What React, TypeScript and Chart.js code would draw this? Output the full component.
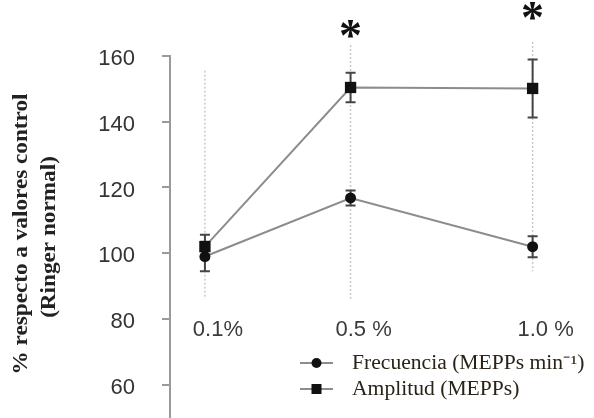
import React, { useEffect, useRef } from 'react';
import { Chart, registerables } from 'chart.js';

Chart.register(...registerables);

const concentrations = [0.1, 0.5, 1.0];
const concentrationLabels = ['0.1%', '0.5 %', '1.0 %'];
const frecuencia = [99.0, 116.8, 102.0];
const frecuenciaErr = [4.5, 2.3, 3.2];
const amplitud = [102.0, 150.4, 150.1];
const amplitudErr = [3.6, 4.5, 8.8];
const rangeTop = [155.5, 163.3, 164.2];
const rangeBottom = [86.1, 86.1, 94.5];
const significance = ['', '*', '*'];
const significanceY = [0, 166.3, 171.7];
const yTicks = [60, 80, 100, 120, 140, 160];
const seriesNames = ['Frecuencia (MEPPs min⁻¹)', 'Amplitud (MEPPs)'];
const yTitle = ['% respecto a valores control', '(Ringer normal)'];

const LINE = '#8c8c8c';
const MARK = '#111111';

const overlay = {
  id: 'overlay',
  beforeDatasetsDraw(chart: any) {
    const { ctx, scales } = chart;
    const x = scales.x;
    const y = scales.y;
    ctx.save();
    ctx.strokeStyle = '#c8c8c8';
    ctx.lineWidth = 1.5;
    ctx.setLineDash([2, 2]);
    concentrations.forEach((c, i) => {
      const px = x.getPixelForValue(c);
      ctx.beginPath();
      ctx.moveTo(px, y.getPixelForValue(rangeTop[i]));
      ctx.lineTo(px, y.getPixelForValue(rangeBottom[i]));
      ctx.stroke();
    });
    ctx.setLineDash([]);
    ctx.strokeStyle = '#444';
    ctx.lineWidth = 2;
    const bars = (vals: number[], errs: number[]) => {
      vals.forEach((v, i) => {
        const px = x.getPixelForValue(concentrations[i]);
        const t = y.getPixelForValue(v + errs[i]);
        const b = y.getPixelForValue(v - errs[i]);
        ctx.beginPath();
        ctx.moveTo(px, t);
        ctx.lineTo(px, b);
        ctx.moveTo(px - 5, t);
        ctx.lineTo(px + 5, t);
        ctx.moveTo(px - 5, b);
        ctx.lineTo(px + 5, b);
        ctx.stroke();
      });
    };
    bars(frecuencia, frecuenciaErr);
    bars(amplitud, amplitudErr);
    ctx.restore();
  },
  afterDraw(chart: any) {
    const { ctx, scales, chartArea } = chart;
    const x = scales.x;
    const y = scales.y;
    ctx.save();
    // y axis line
    ctx.strokeStyle = '#9a9a9a';
    ctx.lineWidth = 2;
    ctx.beginPath();
    ctx.moveTo(chartArea.left, y.getPixelForValue(yTicks[yTicks.length - 1]) - 1);
    ctx.lineTo(chartArea.left, chart.height);
    ctx.stroke();

    // asterisks
    ctx.fillStyle = '#111';
    ctx.font = 'bold 46px "Liberation Serif"';
    ctx.textAlign = 'center';
    ctx.textBaseline = 'alphabetic';
    significance.forEach((s, i) => {
      if (!s) return;
      ctx.fillText(s, x.getPixelForValue(concentrations[i]), y.getPixelForValue(significanceY[i]) + 16);
    });

    // legend
    const lx0 = 300, lx1 = 333, tx = 352;
    const rows = [363, 389];
    rows.forEach((ry, i) => {
      ctx.strokeStyle = LINE;
      ctx.lineWidth = 2;
      ctx.beginPath();
      ctx.moveTo(lx0, ry);
      ctx.lineTo(lx1, ry);
      ctx.stroke();
      ctx.fillStyle = MARK;
      const cx = (lx0 + lx1) / 2;
      if (i === 0) {
        ctx.beginPath();
        ctx.arc(cx, ry, 5, 0, Math.PI * 2);
        ctx.fill();
      } else {
        ctx.fillRect(cx - 5, ry - 5, 10, 10);
      }
      ctx.save();
      ctx.translate(tx, ry);
      ctx.scale(1.08, 1);
      ctx.fillStyle = '#2a2318';
      ctx.font = '20px "Liberation Serif"';
      ctx.textAlign = 'left';
      ctx.textBaseline = 'middle';
      ctx.fillText(seriesNames[i], 0, 1);
      ctx.restore();
    });

    // y title
    const titlePos = [[22, 234], [50, 237]];
    yTitle.forEach((t, i) => {
      ctx.save();
      ctx.translate(titlePos[i][0], titlePos[i][1]);
      ctx.rotate(-Math.PI / 2);
      ctx.scale(1.16, 1);
      ctx.fillStyle = '#222';
      ctx.font = 'bold 20px "Liberation Serif"';
      ctx.textAlign = 'center';
      ctx.textBaseline = 'middle';
      ctx.fillText(t, 0, 0);
      ctx.restore();
    });
    ctx.restore();
  },
};

export default function App() {
  const ref = useRef<HTMLCanvasElement | null>(null);
  useEffect(() => {
    document.body.style.margin = '0';
    if (!ref.current) return;
    const chart = new Chart(ref.current, {
      type: 'line',
      data: {
        datasets: [
          {
            label: seriesNames[0],
            data: concentrations.map((c, i) => ({ x: c, y: frecuencia[i] })),
            borderColor: LINE,
            borderWidth: 2,
            pointStyle: 'circle',
            pointRadius: 5.5,
            pointBackgroundColor: MARK,
            pointBorderColor: MARK,
            pointBorderWidth: 0,
          },
          {
            label: seriesNames[1],
            data: concentrations.map((c, i) => ({ x: c, y: amplitud[i] })),
            borderColor: LINE,
            borderWidth: 2,
            pointStyle: 'rect',
            pointRadius: 8,
            pointBackgroundColor: MARK,
            pointBorderColor: MARK,
            pointBorderWidth: 0,
          },
        ],
      },
      options: {
        animation: false,
        responsive: true,
        maintainAspectRatio: false,
        layout: { padding: 0 },
        plugins: { legend: { display: false }, tooltip: { enabled: false } },
        scales: {
          x: {
            type: 'linear',
            position: { y: 80 } as any,
            min: 0.0041,
            max: 1.1466,
            afterBuildTicks: (s: any) => {
              s.ticks = concentrations.map((v) => ({ value: v }));
            },
            afterFit: (s: any) => {
              s.paddingLeft = 0;
              s.paddingRight = 0;
            },
            grid: { display: false, drawTicks: false },
            border: { display: false },
            ticks: {
              autoSkip: false,
              maxRotation: 0,
              padding: -2,
              labelOffset: 13,
              color: '#3a3a3a',
              font: { family: '"Liberation Sans", Arial', size: 22 },
              callback: (v: any) => {
                const idx = concentrations.indexOf(Number(v));
                return idx >= 0 ? concentrationLabels[idx] : '';
              },
            },
          },
          y: {
            type: 'linear',
            position: 'left',
            min: 52.34,
            max: 174.56,
            afterBuildTicks: (s: any) => {
              s.ticks = yTicks.map((v) => ({ value: v }));
            },
            afterFit: (s: any) => {
              s.width = 170;
              s.paddingTop = 0;
              s.paddingBottom = 0;
            },
            grid: {
              drawOnChartArea: false,
              drawTicks: true,
              tickLength: 8,
              color: '#9a9a9a',
              lineWidth: 2,
            },
            border: { display: false },
            ticks: {
              padding: 27,
              labelOffset: 3,
              color: '#333',
              font: { family: '"Liberation Sans", Arial', size: 22 },
            },
          },
        },
      },
      plugins: [overlay],
    });
    return () => chart.destroy();
  }, []);
  return (
    <div style={{ position: 'fixed', left: 0, top: 0, width: 594, height: 418, background: '#fff' }}>
      <canvas ref={ref} />
    </div>
  );
}
